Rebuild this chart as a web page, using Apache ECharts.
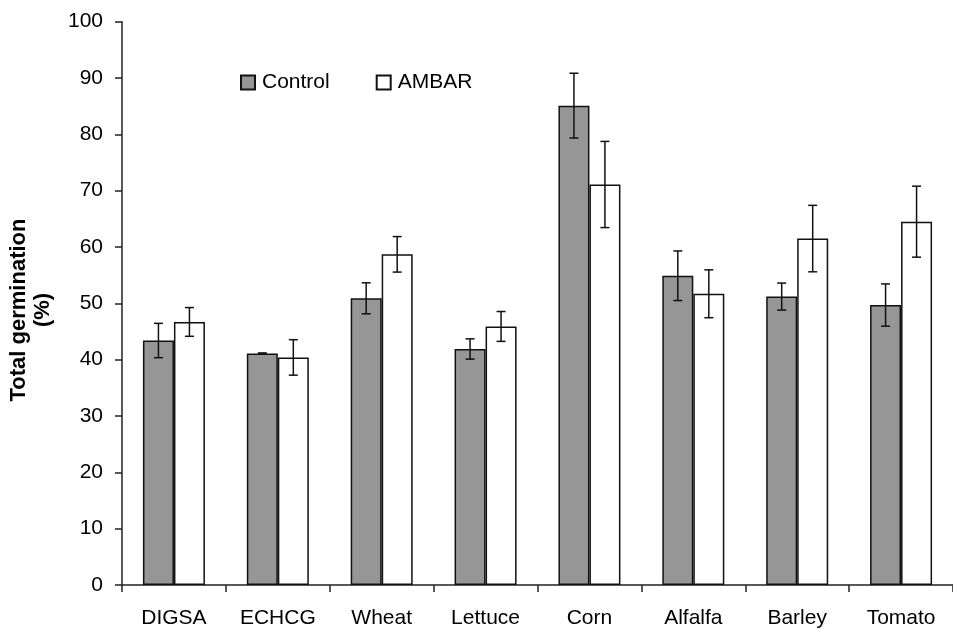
<!DOCTYPE html>
<html>
<head>
<meta charset="utf-8">
<script src="https://cdn.jsdelivr.net/npm/echarts@6/dist/echarts.min.js"></script>
<style>
html,body{margin:0;padding:0;background:#fff;}
#chart{width:953px;height:629px;}
</style>
</head>
<body>
<div id="chart"></div>
<script>
var categories = ['DIGSA', 'ECHCG', 'Wheat', 'Lettuce', 'Corn', 'Alfalfa', 'Barley', 'Tomato'];
var controlMean = [43.4, 41.1, 50.9, 41.9, 85.1, 54.9, 51.2, 49.7];
var controlErr  = [3.05, 0.1, 2.75, 1.8, 5.75, 4.4, 2.4, 3.75];
var ambarMean   = [46.7, 40.4, 58.7, 45.9, 71.1, 51.7, 61.5, 64.5];
var ambarErr    = [2.55, 3.15, 3.15, 2.65, 7.65, 4.25, 5.9, 6.3];
var yTicks = [0, 10, 20, 30, 40, 50, 60, 70, 80, 90, 100];

var BAR_W = 31;
var FONT = '"Liberation Sans", Arial, sans-serif';

function errData(mean, err) {
  return mean.map(function (m, i) { return [i, m - err[i], m + err[i]]; });
}
function errRender(offset) {
  return function (params, api) {
    var i = api.value(0);
    var lo = api.coord([i, api.value(1)]);
    var hi = api.coord([i, api.value(2)]);
    var x = lo[0] + offset;
    var cap = 4.5;
    var st = { stroke: '#111', lineWidth: 1.5 };
    return {
      type: 'group',
      children: [
        { type: 'line', shape: { x1: x, y1: lo[1], x2: x, y2: hi[1] }, style: st },
        { type: 'line', shape: { x1: x - cap, y1: lo[1], x2: x + cap, y2: lo[1] }, style: st },
        { type: 'line', shape: { x1: x - cap, y1: hi[1], x2: x + cap, y2: hi[1] }, style: st }
      ]
    };
  };
}

var chart = echarts.init(document.getElementById('chart'), null, { renderer: 'canvas' });
chart.setOption({
  animation: false,
  backgroundColor: '#fff',
  grid: { left: 122, top: 21.7, bottom: 44, right: -6.6, containLabel: false },
  legend: {
    left: 235, top: 67,
    itemWidth: 14, itemHeight: 14, itemGap: 46,
    icon: 'rect',
    data: ['Control', 'AMBAR'],
    textStyle: { fontFamily: FONT, fontSize: 21, color: '#000', padding: [0, 0, 0, 2] },
    selectedMode: false
  },
  xAxis: {
    type: 'category',
    data: categories,
    axisLine: { lineStyle: { color: '#222', width: 1.5 } },
    axisTick: { show: true, length: 7, lineStyle: { color: '#222', width: 1.5 } },
    axisLabel: { margin: 23, fontFamily: FONT, fontSize: 21, color: '#000' },
    splitLine: { show: false }
  },
  yAxis: {
    type: 'value',
    min: yTicks[0], max: yTicks[yTicks.length - 1], interval: 10,
    axisLine: { show: true, lineStyle: { color: '#222', width: 1.5 } },
    axisTick: { show: true, length: 7, lineStyle: { color: '#222', width: 1.5 } },
    axisLabel: { margin: 19, fontFamily: FONT, fontSize: 21, color: '#000' },
    splitLine: { show: false }
  },
  graphic: [{
    type: 'text',
    x: 30.5, y: 310,
    rotation: Math.PI / 2,
    style: {
      text: 'Total germination\n(%)',
      font: 'bold 22px ' + FONT,
      fill: '#000',
      align: 'center',
      verticalAlign: 'middle',
      lineHeight: 24
    }
  }],
  series: [
    {
      name: 'Control', type: 'bar', data: controlMean,
      barWidth: BAR_W, barGap: '0%',
      itemStyle: { color: '#969696', borderColor: '#111', borderWidth: 1.5 }
    },
    {
      name: 'AMBAR', type: 'bar', data: ambarMean,
      barWidth: BAR_W, barGap: '0%',
      itemStyle: { color: '#ffffff', borderColor: '#111', borderWidth: 1.5 }
    },
    {
      type: 'custom', name: 'ctrlErr', data: errData(controlMean, controlErr),
      encode: { x: 0, y: [1, 2] }, renderItem: errRender(-BAR_W / 2), z: 10
    },
    {
      type: 'custom', name: 'ambErr', data: errData(ambarMean, ambarErr),
      encode: { x: 0, y: [1, 2] }, renderItem: errRender(BAR_W / 2), z: 10
    }
  ]
});
</script>
</body>
</html>
